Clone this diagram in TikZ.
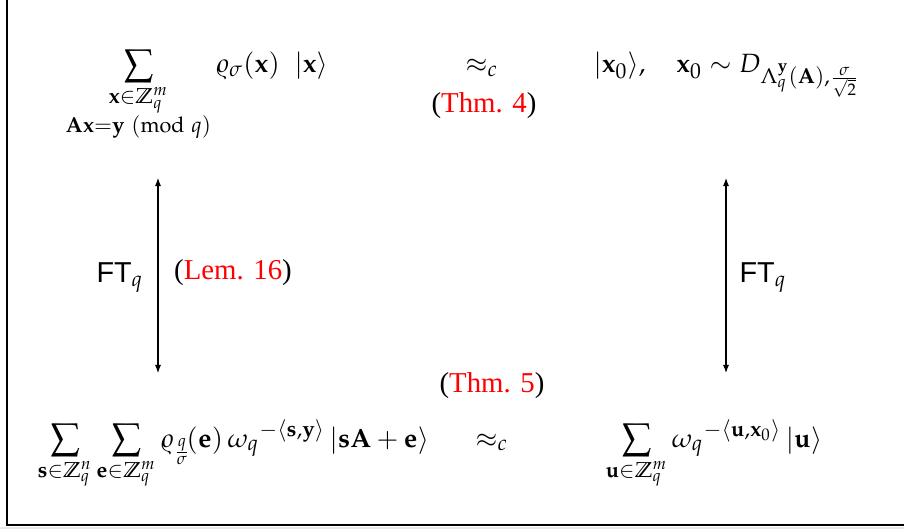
\documentclass[tikz,border=0pt]{standalone}
\usepackage{amsmath}
\usepackage{mathpazo}
\usepackage[no-math]{fontspec}
\setmainfont{Liberation Serif}
\setsansfont{Liberation Sans}
\DeclareMathSizes{11}{11}{9}{7}
\usetikzlibrary{arrows.meta}
\tikzset{
  fml/.style={inner sep=0pt, anchor=base west, font=\fontsize{11}{13}\selectfont},
  txt/.style={inner sep=0pt, font=\fontsize{12}{14}\selectfont},
  lbl/.style={inner sep=0pt, font=\fontsize{12}{14}\selectfont},
  ftarrow/.style={line width=0.45pt, {Latex[length=3.4pt,width=2.6pt]}-{Latex[length=3.4pt,width=2.6pt]}},
  framel/.style={line width=0.6pt}
}
\begin{document}
\begin{tikzpicture}[x=0.4167pt, y=-0.4167pt]
\useasboundingbox (0,0) rectangle (904,529);
\fill[gray!18] (0,526.5) rectangle (904,529);
\coordinate (ftop) at (7,0);
\coordinate (fcorner) at (7,525);
\coordinate (fright) at (904,525);
\draw[framel] (ftop) -- (fcorner) -- (fright);

\node[fml] (tl) at (65,73) {$\displaystyle\sum_{\substack{\mathbf{x}\in\mathbb{Z}_q^m\\ \mathbf{Ax}=\mathbf{y}\ (\mathrm{mod}\ q)}} \varrho_\sigma(\mathbf{x})\;\;|\mathbf{x}\rangle$};
\node[fml] (ta) at (465,73) {$\approx_c$};
\node[txt, anchor=base] (t4) at (484,113) {(\textcolor{red}{Thm. 4})};
\node[fml] (tr) at (593,73) {$|\mathbf{x}_0\rangle,\quad \mathbf{x}_0\sim D_{\Lambda_q^{\mathbf{y}}(\mathbf{A}),\frac{\sigma}{\sqrt{2}}}$};

\node[fml] (bl) at (37,447) {$\displaystyle\sum_{\mathbf{s}\in\mathbb{Z}_q^n}\sum_{\mathbf{e}\in\mathbb{Z}_q^m}\varrho_{\frac{q}{\sigma}}\!(\mathbf{e})\,{\omega_q}^{-\langle\mathbf{s},\mathbf{y}\rangle}\,|\mathbf{sA}+\mathbf{e}\rangle$};
\node[fml] (ba) at (475,447) {$\approx_c$};
\node[txt, anchor=base] (t5) at (492,392) {(\textcolor{red}{Thm. 5})};
\node[fml] (br) at (605,447) {$\displaystyle\sum_{\mathbf{u}\in\mathbb{Z}_q^m}{\omega_q}^{-\langle\mathbf{u},\mathbf{x}_0\rangle}\,|\mathbf{u}\rangle$};

\coordinate (la) at (158,178);
\coordinate (lb) at (158,373);
\coordinate (ra) at (726,178);
\coordinate (rb) at (726,373);
\draw[ftarrow] (la) -- (lb);
\draw[ftarrow] (ra) -- (rb);
\node[lbl, anchor=base] (ftl) at (120,282) {$\textsf{FT}_q$};
\node[txt, anchor=base] (lem) at (233,280) {(\textcolor{red}{Lem. 16})};
\node[lbl, anchor=base] (ftr) at (763,282) {$\textsf{FT}_q$};
\end{tikzpicture}
\end{document}
